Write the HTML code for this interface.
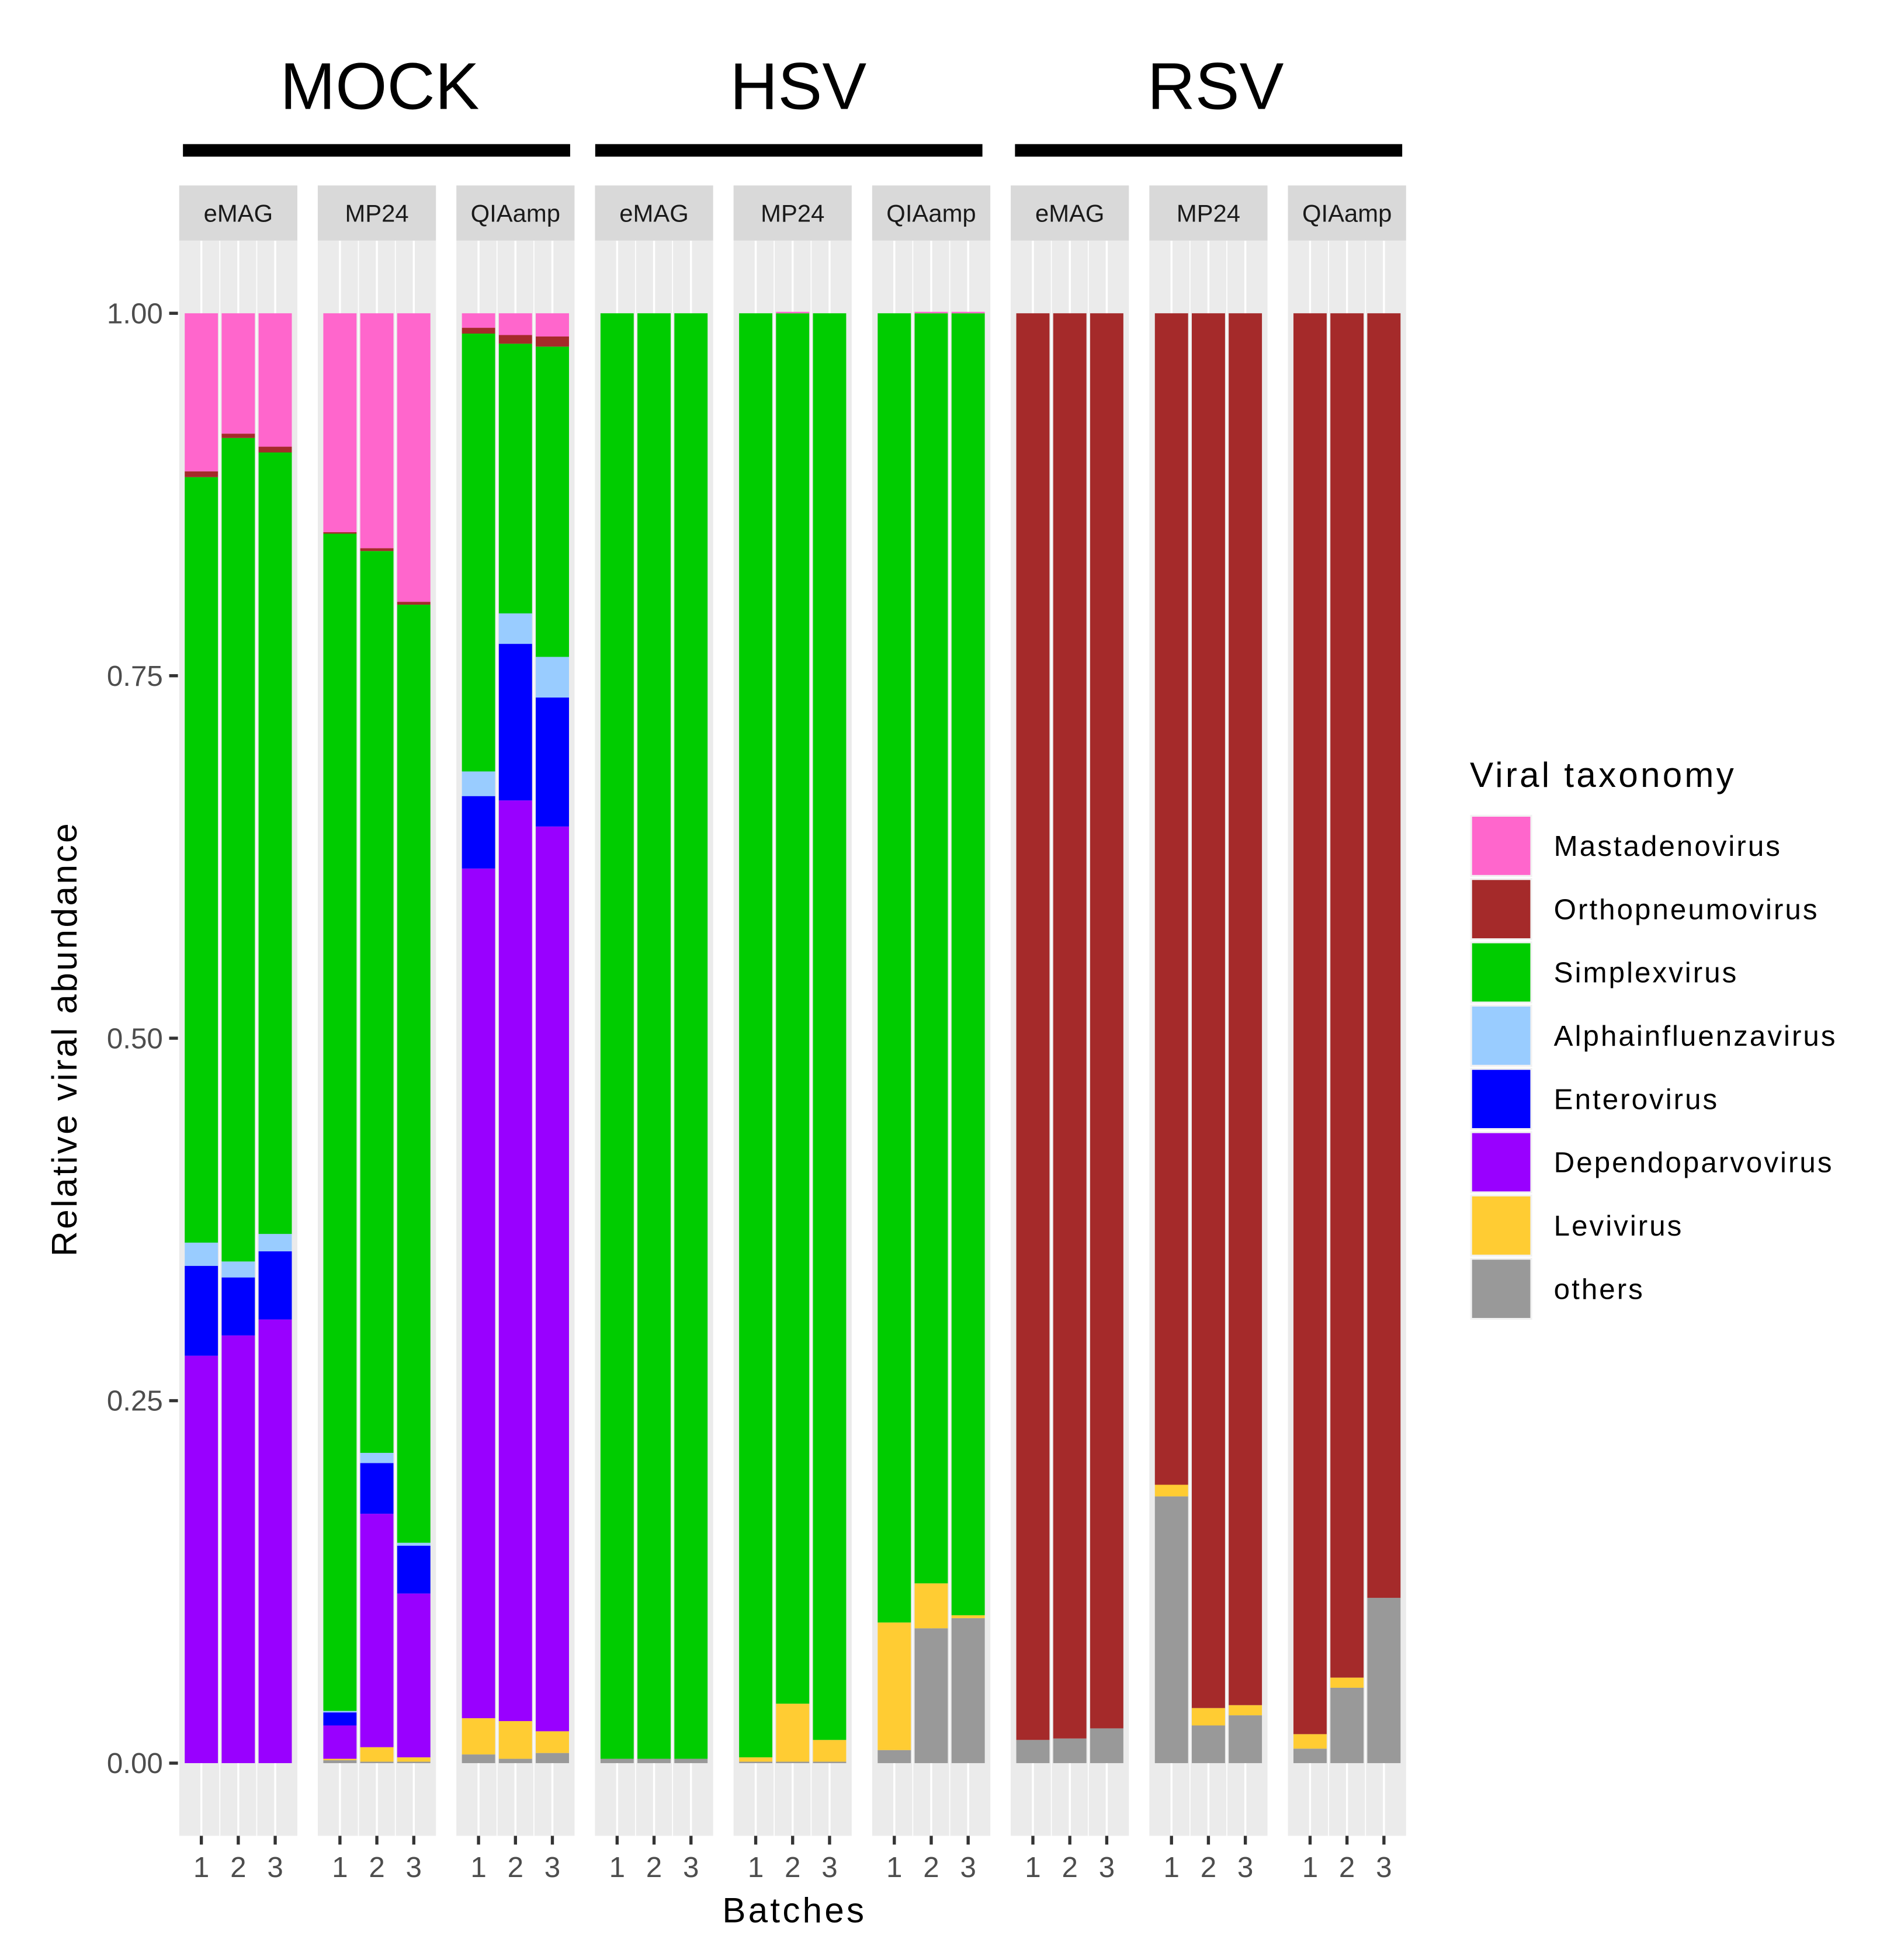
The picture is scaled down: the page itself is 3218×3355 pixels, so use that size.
<!DOCTYPE html>
<html><head><meta charset="utf-8"><style>html,body{margin:0;padding:0;background:#fff}svg{display:block}</style></head>
<body>
<svg id="chart" width="3218" height="3355" viewBox="0 0 1500.3 1564.1" preserveAspectRatio="none" xmlns="http://www.w3.org/2000/svg" font-family="'Liberation Sans', sans-serif"></svg>
<script>
const groups = ["MOCK","HSV","RSV"];
const methods = ["eMAG","MP24","QIAamp"];
const batches = ["1","2","3"];
const taxa = ["others","Levivirus","Dependoparvovirus","Enterovirus","Alphainfluenzavirus","Simplexvirus","Orthopneumovirus","Mastadenovirus"];
const legendOrder = ["Mastadenovirus","Orthopneumovirus","Simplexvirus","Alphainfluenzavirus","Enterovirus","Dependoparvovirus","Levivirus","others"];
const yTicks = [0,0.25,0.5,0.75,1];
const yTickLabels = ["0.00","0.25","0.50","0.75","1.00"];
const others = [0,0,0, .002,.001,.001, .006,.003,.007, .003,.003,.003, .001,.001,.001, .009,.093,.100, .016,.017,.024, .184,.026,.033, .010,.052,.114];
const levivirus = [0,0,0, .001,.010,.003, .025,.026,.015, 0,0,0, .003,.040,.015, .088,.031,.002, 0,0,0, .008,.012,.007, .010,.007,0];
const dependo = [.281,.295,.306, .023,.161,.113, .586,.635,.624, 0,0,0, 0,0,0, 0,0,0, 0,0,0, 0,0,0, 0,0,0];
const entero = [.062,.040,.047, .009,.035,.033, .050,.108,.089, 0,0,0, 0,0,0, 0,0,0, 0,0,0, 0,0,0, 0,0,0];
const alpha = [.016,.011,.012, .001,.007,.002, .017,.021,.028, 0,0,0, 0,0,0, 0,0,0, 0,0,0, 0,0,0, 0,0,0];
const simplex = [.528,.568,.539, .812,.622,.647, .302,.186,.214, .997,.997,.997, .996,.959,.984, .903,.876,.898, 0,0,0, 0,0,0, 0,0,0];
const ortho = [.004,.003,.004, .001,.002,.002, .004,.006,.007, 0,0,0, 0,0,0, 0,0,0, .984,.983,.976, .808,.962,.960, .980,.941,.886];
const mast = [.109,.083,.092, .151,.162,.199, .010,.015,.016, 0,0,0, 0,.001,0, 0,.001,.001, 0,0,0, 0,0,0, 0,0,0];
const series = [others, levivirus, dependo, entero, alpha, simplex, ortho, mast];
const colors = {"others":"#999999","Levivirus":"#ffcc33","Dependoparvovirus":"#9900ff","Enterovirus":"#0000ff","Alphainfluenzavirus":"#99ccff","Simplexvirus":"#00cc00","Orthopneumovirus":"#a52a2a","Mastadenovirus":"#ff66cc"};

const svg = document.getElementById('chart');
const NS = "http://www.w3.org/2000/svg";
function mk(tag, attrs, text){const e=document.createElementNS(NS,tag);for(const k in attrs)e.setAttribute(k,attrs[k]);if(text!==undefined)e.textContent=text;svg.appendChild(e);return e;}
const y0 = 1407, y1 = 250;
function yScale(v){return y0 - v*(y0-y1);}
const panelX0 = 143, panelW = 94.3, panelStep = 110.6;
const unit = panelW/3.2;
function panelLeft(i){return panelX0 + i*panelStep;}
function xCenter(p, b){return panelLeft(p) + (0.6 + b)*unit;}

for(let p=0;p<9;p++){
  const L=panelLeft(p);
  const bg=mk('rect',{x:L,y:192,width:panelW,height:1273,fill:'#ebebeb'});
  
  
  for(let b=0;b<3;b++){
    const g=mk('line',{x1:xCenter(p,b),x2:xCenter(p,b),y1:192,y2:1465,stroke:'#fff','stroke-width':1.6});
    
    
    if(b<2){const gm=mk('line',{x1:xCenter(p,b)+unit/2,x2:xCenter(p,b)+unit/2,y1:192,y2:1465,stroke:'#fff','stroke-width':0.8});
      
      }
    const tk=mk('line',{x1:xCenter(p,b),x2:xCenter(p,b),y1:1465,y2:1472,stroke:'#333','stroke-width':2.5});
    
    
    const tl=mk('text',{x:xCenter(p,b),y:1498,'text-anchor':'middle','font-size':23,fill:'#4d4d4d'},batches[b]);
    
    
  }
  const st=mk('rect',{x:L,y:148,width:panelW,height:44,fill:'#d9d9d9'});
  
  
  const stt=mk('text',{x:L+panelW/2,y:177,'text-anchor':'middle','font-size':19.5,fill:'#1a1a1a'},methods[p%3]);
  
  
}
const bw = 0.9*unit;
for(let p=0;p<9;p++){for(let b=0;b<3;b++){
  const idx=p*3+b; let cum=0;
  for(let t=0;t<taxa.length;t++){
    const v=series[t][idx]; if(v<=0)continue;
    const r=mk('rect',{x:xCenter(p,b)-bw/2,y:yScale(cum+v),width:bw,height:yScale(cum)-yScale(cum+v),fill:colors[taxa[t]]});
    
    
    cum+=v;
  }
}}
for(let i=0;i<yTicks.length;i++){
  const yy=yScale(yTicks[i]);
  const t=mk('line',{x1:135,x2:142,y1:yy,y2:yy,stroke:'#333','stroke-width':2.5});
  
  
  const l=mk('text',{x:130,y:yy+8,'text-anchor':'end','font-size':23,fill:'#4d4d4d'},yTickLabels[i]);
  
  
}
const yt=mk('text',{x:0,y:0,transform:'translate(61,829) rotate(-90)','text-anchor':'middle','font-size':28,'letter-spacing':1.7,fill:'#000'},'Relative viral abundance');


const xt=mk('text',{x:634,y:1534,'text-anchor':'middle','font-size':28,'letter-spacing':2,fill:'#000'},'Batches');


const gb=[[146,455],[475,784],[810,1119]];
const gc=[303,637,970];
for(let g=0;g<3;g++){
  const r=mk('rect',{x:gb[g][0],y:115,width:gb[g][1]-gb[g][0],height:10,fill:'#000'});
  
  
  const t=mk('text',{x:gc[g],y:87,'text-anchor':'middle','font-size':53,fill:'#000'},groups[g]);
  
  
}
const lt=mk('text',{x:1173,y:628,'font-size':28,'letter-spacing':2,fill:'#000'},'Viral taxonomy');


for(let i=0;i<legendOrder.length;i++){
  const yy=651+i*50.5;
  const k=mk('rect',{x:1174,y:yy,width:48,height:48,fill:colors[legendOrder[i]],stroke:'#f2f2f2','stroke-width':1.5});
  
  
  const l=mk('text',{x:1240,y:yy+32,'font-size':23,'letter-spacing':1.4,fill:'#000'},legendOrder[i]);
  
  
}
</script>
</body></html>
